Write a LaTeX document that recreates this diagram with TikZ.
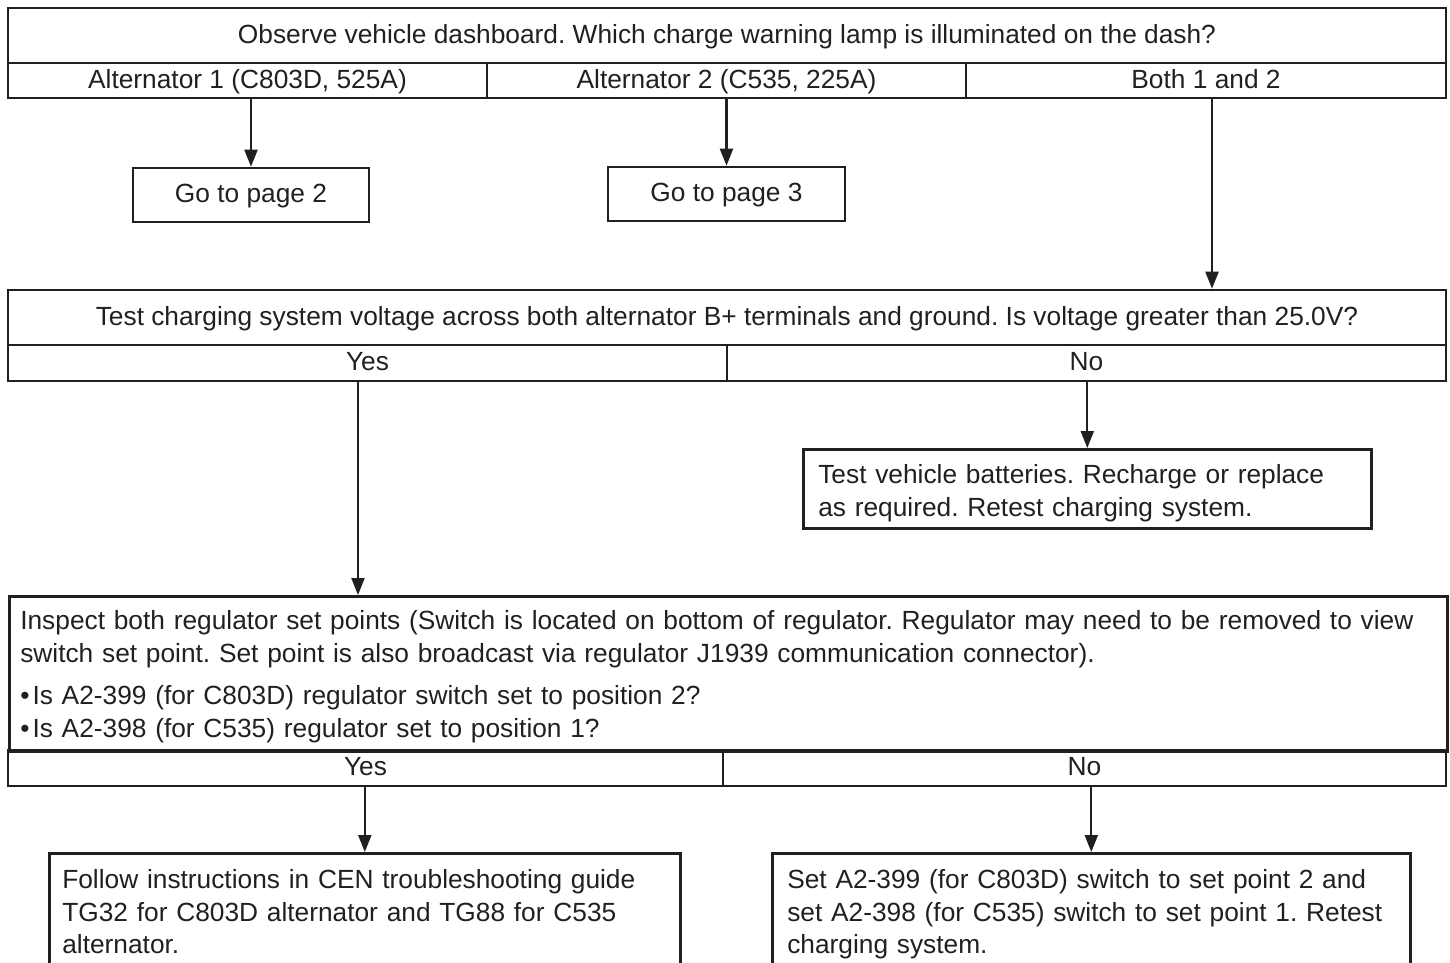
\documentclass[tikz,border=0pt]{standalone}
\usepackage{fontspec}
\setmainfont{Liberation Sans}
\usetikzlibrary{arrows.meta}
\definecolor{ink}{RGB}{35,31,32}
\frenchspacing
\tikzset{
  box/.style={draw=ink, line width=2.6pt, rectangle, inner sep=0pt, text=ink},
  cell/.style={box, text height=22pt, text depth=6.4pt},
  para/.style={box, align=left, anchor=north west, inner ysep=0pt},
  flow/.style={draw=ink, line width=2.2pt, -{Triangle[length=17pt,width=13pt]}}
}
\begin{document}
\begin{tikzpicture}[x=1pt, y=-1pt, font=\fontsize{26.3pt}{32.5pt}\selectfont]
	\useasboundingbox (0,0) rectangle (1450,963);
	\clip (0,0) rectangle (1450,963);
	\node[cell, minimum width=1438pt, minimum height=55pt] (obs) at (727,35.5) {Observe vehicle dashboard. Which charge warning lamp is illuminated on the dash?};
	\node[cell, minimum width=479pt, minimum height=35pt] (alt1) at (247.5,80.5) {Alternator 1 (C803D, 525A)};
	\node[cell, minimum width=479pt, minimum height=35pt] (alt2) at (726.5,80.5) {Alternator 2 (C535, 225A)};
	\node[cell, minimum width=480pt, minimum height=35pt] (both) at (1206,80.5) {Both 1 and 2};
	\node[cell, minimum width=236pt, minimum height=54pt] (page2) at (251,195) {Go to page 2};
	\node[cell, minimum width=237pt, minimum height=54pt] (page3) at (726.5,194) {Go to page 3};
	\node[cell, minimum width=1438pt, minimum height=55pt] (volt) at (727,317.5) {Test charging system voltage across both alternator B+ terminals and ground. Is voltage greater than 25.0V?};
	\node[cell, minimum width=719pt, minimum height=36pt] (vyes) at (367.5,363) {Yes};
	\node[cell, minimum width=719pt, minimum height=36pt] (vno) at (1086.5,363) {No};
	\node[para, inner xsep=15pt, text width=538pt, text height=34.4pt, text depth=44.6pt] (bat) at (802,448) {Test vehicle batteries. Recharge or replace\\as required. Retest charging system.};
	\node[para, inner xsep=11pt, text width=1416pt, text height=33.4pt, text depth=121.6pt] (insp) at (8,595) {Inspect both regulator set points (Switch is located on bottom of regulator. Regulator may need to be removed to view\\switch set point. Set point is also broadcast via regulator J1939 communication connector).\\[10pt]\textbullet\kern3pt Is A2-399 (for C803D) regulator switch set to position 2?\\\textbullet\kern3pt Is A2-398 (for C535) regulator set to position 1?};
	\node[cell, minimum width=715pt, minimum height=36pt] (iyes) at (365.5,768) {Yes};
	\node[cell, minimum width=723pt, minimum height=36pt] (ino) at (1084.5,768) {No};
	\node[para, inner xsep=13pt, text width=605pt, text height=35.3pt, text depth=120pt] (follow) at (48,852) {Follow instructions in CEN troubleshooting guide\\TG32 for C803D alternator and TG88 for C535\\alternator.};
	\node[para, inner xsep=15pt, text width=608pt, text height=35.3pt, text depth=120pt] (setsw) at (771,852) {Set A2-399 (for C803D) switch to set point 2 and\\set A2-398 (for C535) switch to set point 1. Retest\\charging system.};
	\draw[flow] (alt1.south -| page2.north) -- (page2.north);
	\draw[flow] (alt2.south) -- (page3.north);
	\draw[flow] ([xshift=6pt]both.south) -- ([xshift=6pt]both.south |- volt.north);
	\draw[flow] ([xshift=-9.5pt]vyes.south) -- ([xshift=-9.5pt]vyes.south |- insp.north);
	\draw[flow] (vno.south -| bat.north) -- (bat.north);
	\draw[flow] (iyes.south -| follow.north) -- (follow.north);
	\draw[flow] (ino.south -| setsw.north) -- (setsw.north);
\end{tikzpicture}
\end{document}
